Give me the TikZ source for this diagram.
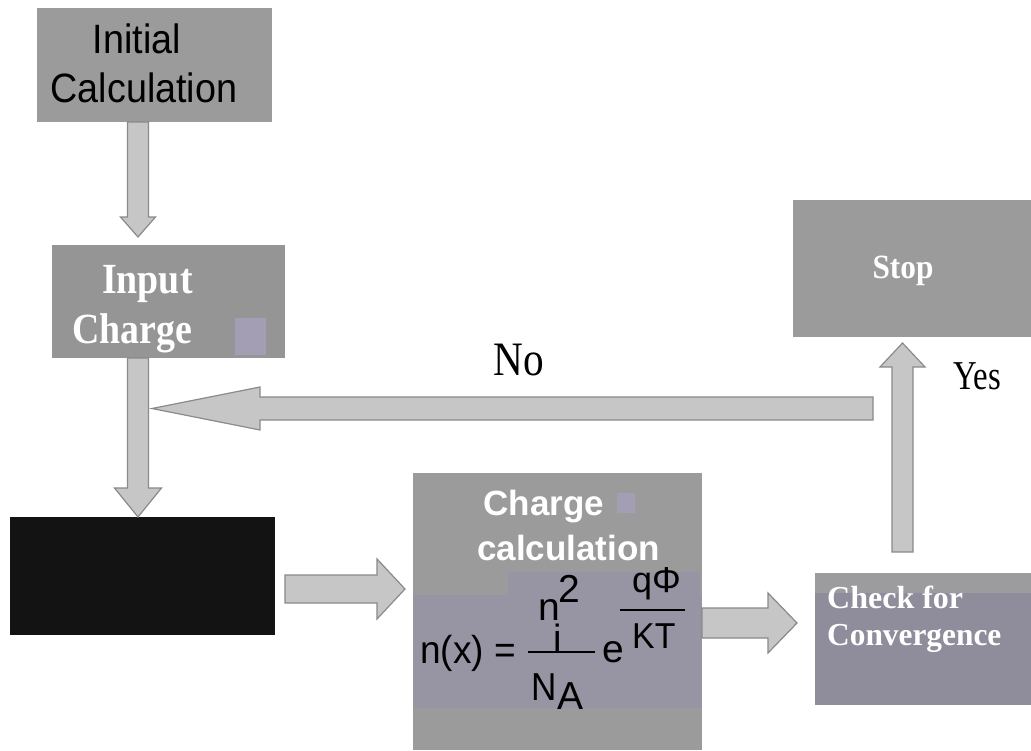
\documentclass[tikz,border=0pt]{standalone}
\usepackage{graphicx}
\usepackage{fontspec}
\setmainfont{Liberation Serif}
\newfontfamily\arialf{Liberation Sans}
\usetikzlibrary{calc}
\definecolor{boxgray}{HTML}{9B9B9B}
\definecolor{inputgray}{HTML}{959595}
\definecolor{bandpurple}{HTML}{9795A3}
\definecolor{checkpurple}{HTML}{8F8D9B}
\definecolor{stripgray}{HTML}{9C9C9E}
\definecolor{squarepurple}{HTML}{A39EB3}
\definecolor{nearblack}{HTML}{131313}
\definecolor{arrowfill}{HTML}{C6C6C6}
\definecolor{arrowedge}{HTML}{8A8A8A}
\newcommand\narrowtxt[2]{\scalebox{#1}[1]{#2}}
\newcommand\blkdown[5]{\draw[blockarrow] let \p1=(#1), \p2=(#2) in
  (\x1-#3,\y1) -- (\x1-#3,\y2+#5) -- (\x1-#4,\y2+#5) -- (\x2,\y2) -- (\x1+#4,\y2+#5) -- (\x1+#3,\y2+#5) -- (\x1+#3,\y1) -- cycle;}
\newcommand\blkup[5]{\draw[blockarrow] let \p1=(#1), \p2=(#2) in
  (\x1-#3,\y1) -- (\x1-#3,\y2-#5) -- (\x1-#4,\y2-#5) -- (\x2,\y2) -- (\x1+#4,\y2-#5) -- (\x1+#3,\y2-#5) -- (\x1+#3,\y1) -- cycle;}
\newcommand\blkright[5]{\draw[blockarrow] let \p1=(#1), \p2=(#2) in
  (\x1,\y1-#3) -- (\x2-#5,\y1-#3) -- (\x2-#5,\y1-#4) -- (\x2,\y2) -- (\x2-#5,\y1+#4) -- (\x2-#5,\y1+#3) -- (\x1,\y1+#3) -- cycle;}
\newcommand\blkleft[5]{\draw[blockarrow] let \p1=(#1), \p2=(#2) in
  (\x1,\y1-#3) -- (\x2+#5,\y1-#3) -- (\x2+#5,\y1-#4) -- (\x2,\y2) -- (\x2+#5,\y1+#4) -- (\x2+#5,\y1+#3) -- (\x1,\y1+#3) -- cycle;}
\begin{document}
\begin{tikzpicture}[x=1pt,y=-1pt,
  region/.style={fill=#1, draw=none, rectangle, inner sep=0pt, outer sep=0pt, anchor=north west},
  blockarrow/.style={fill=arrowfill, draw=arrowedge, line width=1.2pt, line join=miter},
  sanstxt/.style={font=\arialf\fontsize{41pt}{46pt}\selectfont, inner sep=0pt, anchor=base},
  sansbold/.style={font=\arialf\bfseries\fontsize{35pt}{42pt}\selectfont, text=white, inner sep=0pt, anchor=base west},
  serifbold/.style={font=\bfseries\fontsize{#1}{#1}\selectfont, text=white, inner sep=0pt, anchor=base west},
  seriftxt/.style={font=\fontsize{#1}{#1}\selectfont, inner sep=0pt, anchor=base west},
  formula/.style={font=\arialf\fontsize{#1}{#1}\selectfont, inner sep=0pt, anchor=base west},
  fracbar/.style={line width=2.4pt}]
\useasboundingbox (0,0) rectangle (1031,750);
\fill[white] (0,0) rectangle (1031,750);

% boxes
\node[region=boxgray, minimum width=235pt, minimum height=114pt] (init) at (37,8) {};
\node[region=inputgray, minimum width=233pt, minimum height=113pt] (input) at (52,245) {};
\node[region=squarepurple, minimum width=31pt, minimum height=37pt] (inputsq) at (235,318) {};
\node[region=nearblack, minimum width=265pt, minimum height=118pt] (black) at (10,517) {};
\node[region=boxgray, minimum width=289pt, minimum height=277pt] (charge) at (413,473) {};
\node[region=bandpurple, minimum width=289pt, minimum height=113pt] (band) at (413,595) {};
\node[region=bandpurple, minimum width=192pt, minimum height=24pt] (bandtop) at (508,572) {};
\node[region=squarepurple, minimum width=18pt, minimum height=20pt] (chargesq) at (617,493) {};
\node[region=checkpurple, minimum width=216pt, minimum height=132pt] (check) at (815,573) {};
\node[region=stripgray, minimum width=216pt, minimum height=20pt] (checkstrip) at (815,573) {};
\node[region=boxgray, minimum width=238pt, minimum height=137pt] (stop) at (793,200) {};

% box texts
\node[sanstxt] (tinit1) at (137,53) {\narrowtxt{0.92}{Initial}};
\node[sanstxt] (tinit2) at (144,102) {\narrowtxt{0.92}{Calculation}};
\node[serifbold=43pt] (tinput1) at (102,293) {\narrowtxt{0.88}{Input}};
\node[serifbold=43pt] (tinput2) at (72,343) {\narrowtxt{0.88}{Charge}};
\node[serifbold=34pt, anchor=base] (tstop) at (903,278) {\narrowtxt{0.92}{Stop}};
\node[serifbold=32pt] (tcheck1) at (827,608) {Check for};
\node[serifbold=32pt] (tcheck2) at (827,645) {\narrowtxt{0.98}{Convergence}};
\node[sansbold, anchor=base] (tcharge1) at (544,515) {Charge};
\node[sansbold] (tcharge2) at (477,560) {calculation};

% formula
\node[formula=39pt] (fnx) at (420,663) {\narrowtxt{0.95}{n(x) =}};
\node[formula=39pt] (fn) at (538,620) {n\kern-6.5pt\raisebox{-31pt}{\fontsize{38pt}{38pt}\selectfont i}};
\node[formula=39pt] (f2) at (558,602) {2};
\draw[fracbar] (528,652) -- (595,652);
\node[formula=39pt] (fN) at (531,700) {\narrowtxt{0.9}{N}};
\node[formula=39pt] (fA) at (557,709) {A};
\node[formula=39pt] (fe) at (602,662) {e};
\node[formula=36pt] (fqphi) at (632,592) {qΦ};
\draw[fracbar] (620,610) -- (685,610);
\node[formula=36pt] (fKT) at (632,648) {\narrowtxt{0.94}{KT}};

% labels
\node[seriftxt=48pt] (lno) at (493,375) {\narrowtxt{0.86}{No}};
\node[seriftxt=41pt] (lyes) at (953,389) {\narrowtxt{0.8}{Yes}};

% connector end points
\coordinate (a1s) at (138,122);
\coordinate (a1e) at (138,237);
\coordinate (a2s) at (138,358);
\coordinate (a2e) at (138,517);
\coordinate (a3s) at (285,589);
\coordinate (a3e) at (405,589);
\coordinate (a4s) at (702,623);
\coordinate (a4e) at (797,623);
\coordinate (a5s) at (902.5,552);
\coordinate (a5e) at (902.5,343);
\coordinate (a6s) at (873,408.5);
\coordinate (a6e) at (152,408.5);

% connectors
\blkdown{a1s}{a1e}{10.5pt}{17.5pt}{20pt}
\blkleft{a6s}{a6e}{11.5pt}{21.5pt}{108pt}
\blkdown{a2s}{a2e}{10.5pt}{23.5pt}{29pt}
\blkright{a3s}{a3e}{14pt}{30pt}{28pt}
\blkright{a4s}{a4e}{15pt}{30pt}{29pt}
\blkup{a5s}{a5e}{10.5pt}{22.5pt}{24pt}
\end{tikzpicture}
\end{document}
